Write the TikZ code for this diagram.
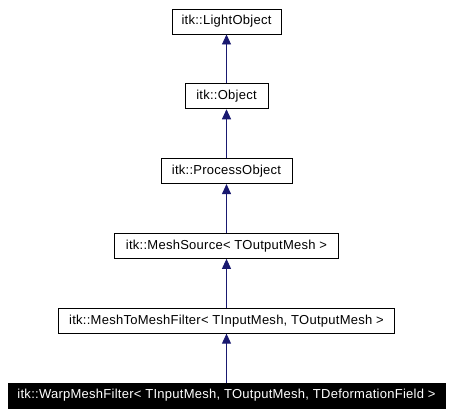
\documentclass[tikz,border=0pt]{standalone}
\usepackage{fontspec}
\setmainfont[LetterSpace=2]{Liberation Sans}
\usetikzlibrary{arrows.meta}
\definecolor{edgeblue}{HTML}{191970}
\begin{document}
\begin{tikzpicture}[x=1pt,y=-1pt,
  cls/.style={draw=black,line width=0.9pt,fill=white,minimum height=25pt,inner sep=0pt,font=\fontsize{13}{15}\selectfont},
  cur/.style={cls,fill=black,text=white},
  inh/.style={draw=edgeblue,line width=0.9pt,-{Triangle[length=10pt,width=9pt]}}]
\useasboundingbox (0,0) rectangle (452,415);
\node[cls,minimum width=109pt] (lo) at (226.5,21.5) {itk::LightObject};
\node[cls,minimum width=83pt] (ob) at (226.5,96.3) {itk::Object};
\node[cls,minimum width=131pt] (po) at (226.5,171.1) {itk::ProcessObject};
\node[cls,minimum width=224pt] (ms) at (226.5,245.9) {itk::MeshSource< TOutputMesh >};
\node[cls,minimum width=336pt] (mm) at (226.5,320.7) {itk::MeshToMeshFilter< TInputMesh, TOutputMesh >};
\node[cur,minimum width=437pt] (wm) at (226.5,395.5) {itk::WarpMeshFilter< TInputMesh, TOutputMesh, TDeformationField >};
\draw[inh] (ob) -- (lo);
\draw[inh] (po) -- (ob);
\draw[inh] (ms) -- (po);
\draw[inh] (mm) -- (ms);
\draw[inh] (wm) -- (mm);
\end{tikzpicture}
\end{document}
